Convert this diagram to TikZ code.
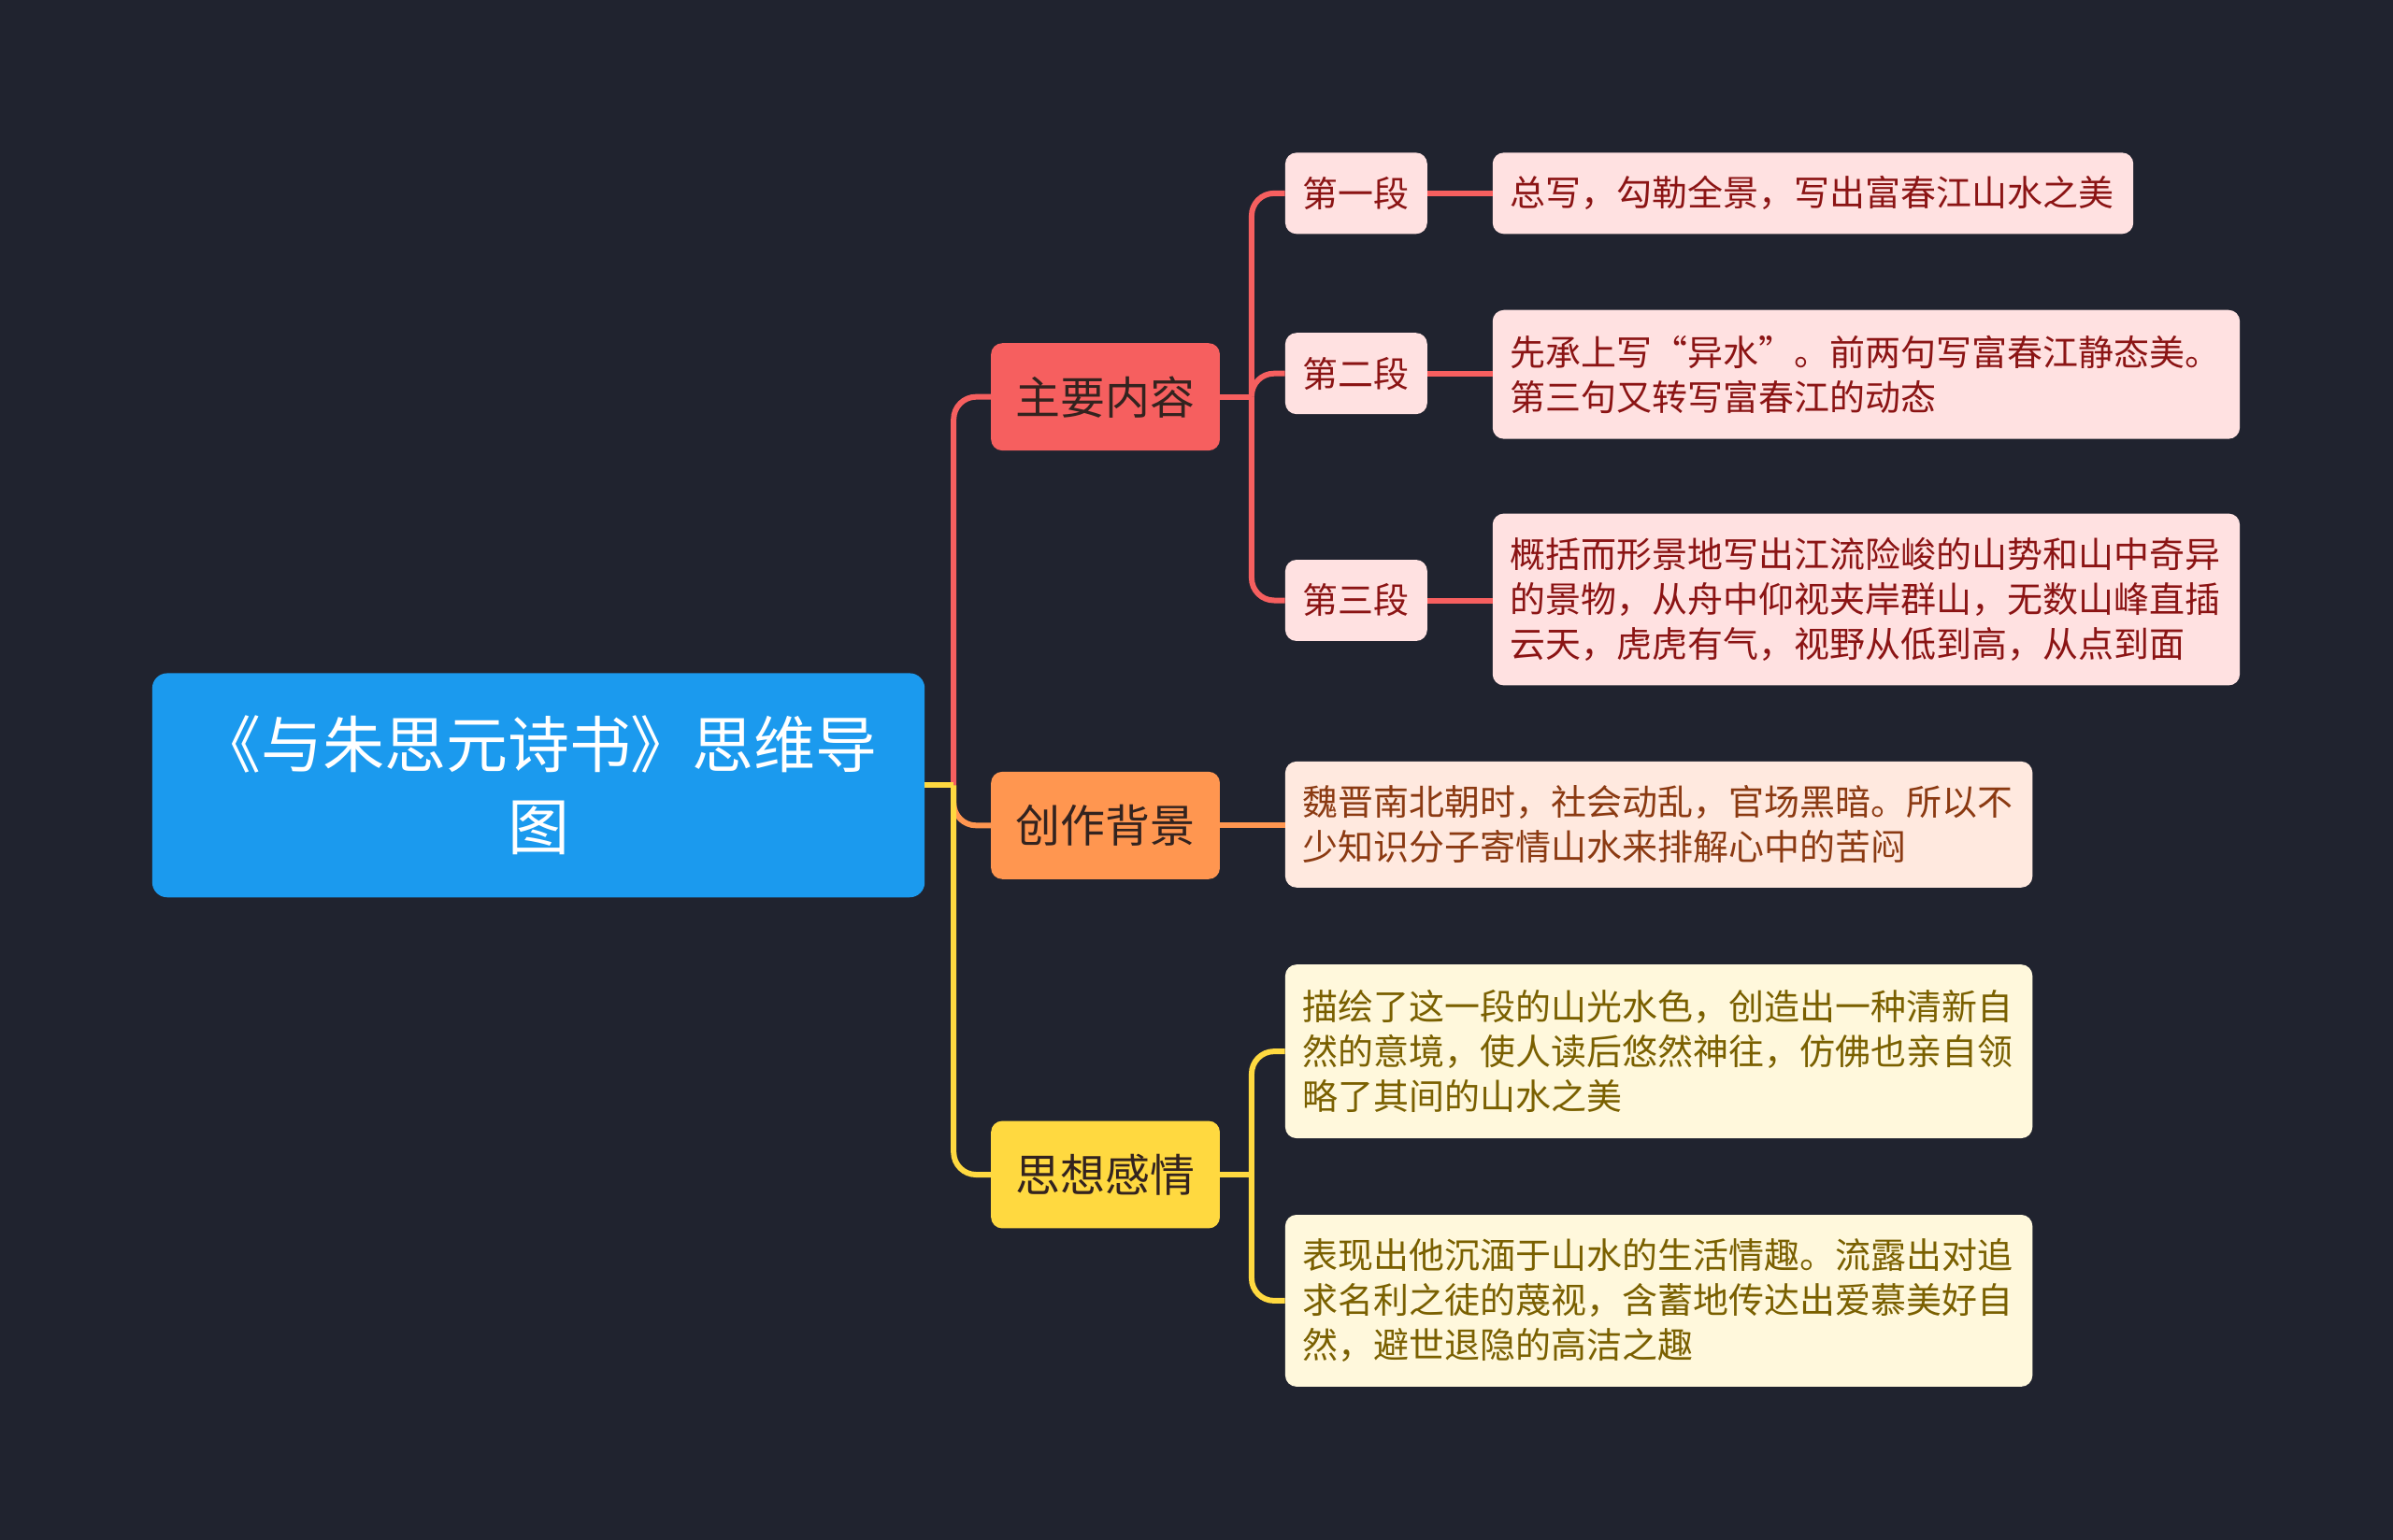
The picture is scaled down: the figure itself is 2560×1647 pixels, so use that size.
\documentclass[tikz,border=0pt]{standalone}
\usepackage{fontspec}
\setmainfont{Noto Sans CJK SC}
\definecolor{bgcol}{HTML}{20232F}
\definecolor{rootcol}{HTML}{1B9AEE}
\definecolor{redcol}{HTML}{F65F5F}
\definecolor{orgcol}{HTML}{FF9650}
\definecolor{ylwcol}{HTML}{FFD940}
\definecolor{redfill}{HTML}{FFE1E1}
\definecolor{orgfill}{HTML}{FFE9DF}
\definecolor{ylwfill}{HTML}{FFF8DC}
\definecolor{redtext}{HTML}{8B1414}
\definecolor{orgtext}{HTML}{8B3A12}
\definecolor{ylwtext}{HTML}{7A6000}
\definecolor{darktext}{HTML}{33231F}

\begin{document}
\begin{tikzpicture}
				[x=1pt, y=-1pt, every node/.style = {rounded corners=12pt, inner sep=0pt},
				 rootbox/.style = {fill=rootcol, text=white, rounded corners=16pt, align=center,
				   minimum width=827, minimum height=240, font=\fontsize{66}{88}\selectfont},
				 branch/.style = {text=darktext, minimum width=245, minimum height=115,
				   font=\fontsize{48}{56}\selectfont},
				 subbox/.style = {fill=redfill, text=redtext, minimum width=152, minimum height=87,
				   font=\fontsize{38}{46}\selectfont},
				 leaf/.style = {inner xsep=19pt, align=left, font=\fontsize{38}{48}\selectfont},
				 link/.style = {line width=6pt},
				 fork/.style = {line width=6pt, rounded corners=24pt}]
				\fill[bgcol] (-1,-1) rectangle (2561,1648);
				\useasboundingbox (0,0) rectangle (2560,1647);
				% root and main branches
				\node[rootbox] (root) at (575.5,840) {《与朱思元诗书》思维导\\图};
				\node[branch, fill=redcol] (m1) at (1182.5,424) {主要内容};
				\node[branch, fill=orgcol] (m2) at (1182.5,883) {创作背景};
				\node[branch, fill=ylwcol] (m3) at (1182.5,1257) {思想感情};
				% 主要内容
				\node[subbox] (s1) at (1451,206) {第一段};
				\node[subbox] (s2) at (1451,399) {第二段};
				\node[subbox] (s3) at (1451,642) {第三段};
				\node[leaf, fill=redfill, text=redtext, text width=648, minimum height=87] (t1) at (1940,206)
					{总写，勾勒全景，写出富春江山水之美};
				\node[leaf, fill=redfill, text=redtext, text width=762, minimum height=138] (t2) at (1997,400)
					{先承上写“异水”。前两句写富春江静态美。\\第三句又转写富春江的动态};
				\node[leaf, fill=redfill, text=redtext, text width=762, minimum height=184] (t3) at (1997,641)
					{概括而形景地写出江流险峻的山势和山中奇异\\的景物，从舟中仰视夹岸群山，无数山峰直插\\云天，虎虎有气，视野从低到高，从点到面};
				% 创作背景
				\node[leaf, fill=orgfill, text=orgtext, text width=762, minimum height=135] (b1) at (1775,882)
					{魏晋南北朝时，社会动乱，官场黑暗。所以不\\少知识分子寄情山水来排解心中的苦闷};
				% 思想感情
				\node[leaf, fill=ylwfill, text=ylwtext, text width=762, minimum height=186] (c1) at (1775,1125)
					{描绘了这一段的山光水色，创造出一种清新自\\然的意境，使人读后悠然神往，仿佛也亲自领\\略了其间的山水之美};
				\node[leaf, fill=ylwfill, text=ylwtext, text width=762, minimum height=184] (c2) at (1775,1392)
					{表现出他沉湎于山水的生活情趣。流露出对追\\求名利之徒的蔑视，含蓄地传达出爱慕美好自\\然，避世退隐的高洁之趣};
				% connectors
				\coordinate (j0) at (1020,840);
				\coordinate (j1) at (1339,424);
				\coordinate (j3) at (1339,1257);
				\draw[fork, redcol] (j0) |- (m1.west);
				\draw[fork, orgcol] (j0) |- (m2.west);
				\draw[fork, ylwcol] (j0) |- (m3.west);
				\draw[link, ylwcol] (root.east) -- (j0);
				\draw[link, redcol] (m1.east) -- (j1);
				\draw[fork, redcol] (j1) |- (s1.west);
				\draw[fork, redcol] (j1) |- (s2.west);
				\draw[fork, redcol] (j1) |- (s3.west);
				\draw[link, redcol] (s1.east) -- (t1.west);
				\draw[link, redcol] (s2.east) -- (t2.west |- s2.east);
				\draw[link, redcol] (s3.east) -- (t3.west |- s3.east);
				\draw[link, orgcol] (m2.east) -- (b1.west |- m2.east);
				\draw[link, ylwcol] (m3.east) -- (j3);
				\draw[fork, ylwcol] (j3) |- (c1.west);
				\draw[fork, ylwcol] (j3) |- (c2.west);
			\end{tikzpicture}
\end{document}
